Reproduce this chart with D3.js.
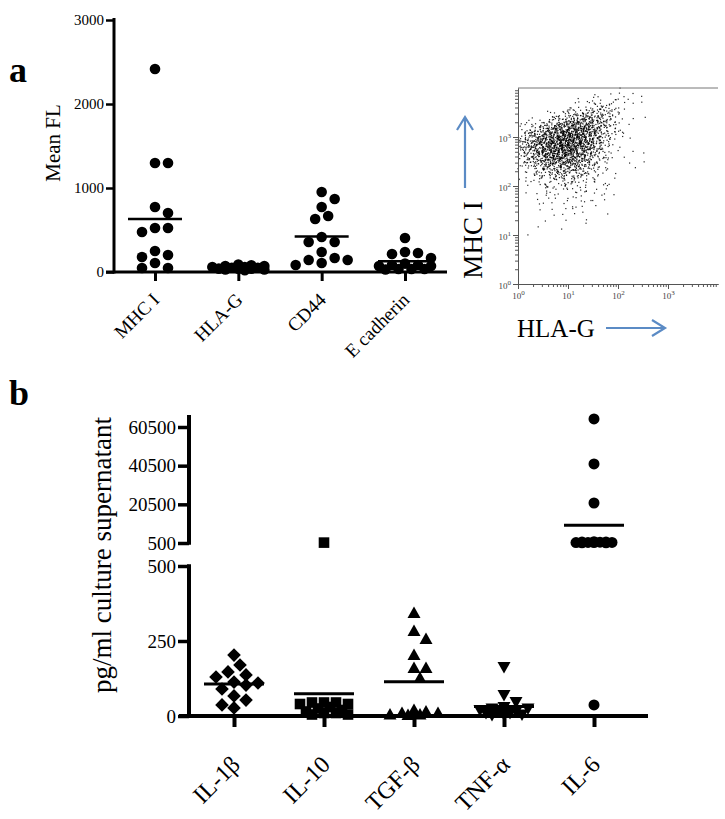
<!DOCTYPE html>
<html>
<head>
<meta charset="utf-8">
<script src="https://cdn.jsdelivr.net/npm/d3@7"></script>
<style>
  body { margin: 0; background: #fff; }
  svg { display: block; }
  text { font-family: "Liberation Serif", "Times New Roman", serif; }
</style>
</head>
<body>
<script>
// ---------------- DATA ----------------
// Panel a: surface marker mean fluorescence
const aCategories = ["MHC I", "HLA-G", "CD44", "E cadherin"];
const aMHCI = [2417, 1298, 1298, 774, 702, 524, 476, 524, 250, 202, 179, 107, 48, 48];
const aHLAG = [80, 60, 70, 40, 50, 30, 60, 90, 20, 40, 50, 30, 70, 40];
const aCD44 = [952, 869, 774, 631, 667, 417, 357, 357, 238, 167, 143, 143, 107, 83];
const aEcad = [405, 238, 226, 214, 167, 100, 83, 83, 70, 70, 36, 36, 36, 30];
const aYTicks = [0, 1000, 2000, 3000];

// Panel b: cytokines (pg/ml culture supernatant)
const bCategories = ["IL-1β", "IL-10", "TGF-β", "TNF-α", "IL-6"];
const bIL1b = [203, 170, 147, 130, 137, 110, 113, 103, 90, 53, 67, 27, 37];
const bIL10 = [700, 45, 45, 40, 45, 40, 30, 25, 20, 15, 10, 10, 5, 5];
const bTGFb = [343, 283, 257, 203, 160, 160, 127, 20, 15, 10, 10, 5, 5, 3];
const bTNFa = [163, 70, 47, 30, 25, 25, 20, 15, 15, 10, 10, 5, 5, 3];
const bIL6 = [64650, 41370, 21190, 1200, 1000, 900, 800, 700, 700, 600, 600, 800, 1000, 37];
const bUpperTicks = [500, 20500, 40500, 60500];
const bLowerTicks = [0, 250, 500];

// Flow cytometry dot plot: dot counts per 0.25-decade cell
// rows: log10(MHC I) from 3.75-4.0 (top) down to 1.0-1.25; cols: log10(HLA-G) 0-0.25 ... 2.75-3.0
const flowDecades = [0, 1, 2, 3];
const flowDensity = [
  [0, 0, 0, 0, 0, 0, 1, 2, 3, 2, 1, 0],
  [0, 0, 0, 0, 3, 10, 18, 16, 5, 1, 0, 0],
  [0, 2, 8, 25, 50, 60, 50, 20, 3, 0, 0, 0],
  [15, 35, 75, 110, 120, 95, 55, 15, 2, 0, 0, 0],
  [40, 80, 115, 140, 130, 90, 40, 8, 2, 1, 0, 0],
  [30, 65, 100, 115, 100, 60, 22, 5, 3, 0, 0, 0],
  [8, 25, 50, 60, 50, 30, 12, 3, 0, 2, 0, 0],
  [3, 10, 16, 20, 18, 12, 5, 2, 0, 0, 0, 0],
  [1, 4, 6, 7, 7, 6, 4, 2, 0, 0, 0, 0],
  [0, 2, 3, 3, 4, 3, 2, 1, 0, 0, 0, 0],
  [0, 1, 2, 2, 2, 1, 1, 0, 0, 0, 0, 0],
  [0, 1, 0, 1, 0, 1, 0, 0, 0, 0, 0, 0]
];

// ---------------- DRAWING ----------------
const svg = d3.select("body").append("svg").attr("width", 725).attr("height", 819);
const FONT = "'Liberation Serif', 'Times New Roman', serif";

function swarm(vals, yOf, step, minD, maxOff) {
  const pts = vals.map(v => ({ v, y: yOf(v) }));
  const order = pts.slice().sort((a, b) => b.v - a.v);
  const cands = [0];
  for (let k = 1; k * step <= maxOff + 0.01; k++) cands.push(k * step, -k * step);
  const placed = [];
  order.forEach(p => {
    let best = 0, bestScore = -Infinity;
    for (const o of cands) {
      let md = Infinity;
      for (const q of placed) {
        const d = Math.hypot(o - q.o, p.y - q.y);
        if (d < md) md = d;
      }
      if (md >= minD) { best = o; bestScore = Infinity; break; }
      if (md > bestScore) { bestScore = md; best = o; }
    }
    p.o = best;
    placed.push(p);
  });
  return pts;
}

// ===== Panel a =====
const xA = d3.scalePoint().domain(aCategories).range([155, 405]);
const yA = d3.scaleLinear().domain([0, 3000]).range([272, 20]);

svg.append("text").attr("x", 9).attr("y", 82).attr("font-size", 36).attr("font-weight", "bold").text("a");

const gAy = svg.append("g").attr("transform", "translate(114,0)")
  .call(d3.axisLeft(yA).tickValues(aYTicks).tickSize(8).tickPadding(2).tickSizeOuter(0).tickFormat(d3.format("d")));
gAy.select(".domain").remove();
gAy.selectAll(".tick line").attr("stroke", "#000").attr("stroke-width", 2.5);
gAy.selectAll(".tick text").attr("font-family", FONT).attr("font-size", 15).attr("fill", "#000");
svg.append("line").attr("x1", 114).attr("x2", 114).attr("y1", 18).attr("y2", 273.5)
  .attr("stroke", "#000").attr("stroke-width", 3);

svg.append("line").attr("x1", 106).attr("x2", 447).attr("y1", 272).attr("y2", 272)
  .attr("stroke", "#000").attr("stroke-width", 3);
const gAx = svg.append("g").attr("transform", "translate(0,272)")
  .call(d3.axisBottom(xA).tickSize(9).tickSizeOuter(0));
gAx.select(".domain").remove();
gAx.selectAll(".tick line").attr("stroke", "#000").attr("stroke-width", 3);
gAx.selectAll(".tick text").attr("font-family", FONT).attr("font-size", 19).attr("fill", "#000")
  .attr("x", 0).attr("y", 0).attr("dy", 0).attr("text-anchor", "end")
  .attr("transform", "translate(5,29) rotate(-45)");

svg.append("text").attr("transform", "translate(60,143) rotate(-90)").attr("text-anchor", "middle")
  .attr("font-size", 21).text("Mean FL");

const aSeries = [aMHCI, aHLAG, aCD44, aEcad];
aSeries.forEach((vals, i) => {
  const cx = xA(aCategories[i]);
  const pts = swarm(vals, yA, 6.5, 11, 26);
  svg.append("g").selectAll("circle").data(pts).join("circle")
    .attr("cx", d => cx + d.o).attr("cy", d => d.y).attr("r", 5.3).attr("fill", "#000");
  const m = d3.mean(vals);
  svg.append("line").attr("x1", cx - 27).attr("x2", cx + 27).attr("y1", yA(m)).attr("y2", yA(m))
    .attr("stroke", "#000").attr("stroke-width", 2.5);
});

// ===== Flow plot =====
const fx = d3.scaleLog().domain([1, 1e4]).range([518, 718]);
const fy = d3.scaleLog().domain([1, 1e4]).range([284, 88]);

function halton(i, b) { let f = 1, r = 0; while (i > 0) { f /= b; r += f * (i % b); i = Math.floor(i / b); } return r; }
const dots = [];
let hi = 1;
flowDensity.forEach((row, r) => {
  const lyMid = 4 - 0.25 * r - 0.125;
  row.forEach((n, c) => {
    const lxMid = c * 0.25 + 0.125;
    for (let k = 0; k < n; k++) {
      hi++;
      // tent-shaped spread over neighbouring cells, low-discrepancy placement
      const lx = lxMid + (halton(hi, 2) + halton(hi, 5) - 1) * 0.25;
      const ly = lyMid + (halton(hi, 3) + halton(hi, 7) - 1) * 0.25;
      if (lx < 0 || ly < 0 || ly > 4) continue;
      dots.push([Math.pow(10, lx), Math.pow(10, ly)]);
    }
  });
});
svg.append("g").selectAll("rect").data(dots).join("rect")
  .attr("x", d => fx(d[0]) - 0.6).attr("y", d => fy(d[1]) - 0.6)
  .attr("width", 1.2).attr("height", 1.2).attr("fill", "#000").attr("opacity", 0.85);

const minorVals = [];
for (let e = 0; e < 4; e++) for (let m = 2; m <= 9; m++) minorVals.push(m * Math.pow(10, e));
const majorVals = flowDecades.map(e => Math.pow(10, e));

function styleFlow(g) {
  g.selectAll("line").attr("stroke", "#555").attr("stroke-width", 1);
  g.selectAll("path").attr("stroke", "#555").attr("stroke-width", 1);
}
function supLabels(g) {
  g.selectAll(".tick text").each(function (d) {
    const t = d3.select(this);
    const e = Math.round(Math.log10(d));
    t.text(null).attr("font-family", "'Liberation Sans', Arial, sans-serif").attr("font-size", 9).attr("fill", "#444");
    t.append("tspan").text("10");
    t.append("tspan").attr("dy", -4).attr("font-size", 7).text(e);
  });
}
const gFyMinor = svg.append("g").attr("transform", "translate(518,0)")
  .call(d3.axisLeft(fy).tickValues(minorVals).tickSize(3).tickFormat("").tickSizeOuter(0));
styleFlow(gFyMinor);
const gFy = svg.append("g").attr("transform", "translate(518,0)")
  .call(d3.axisLeft(fy).tickValues(majorVals).tickSize(5).tickPadding(2).tickSizeOuter(0));
styleFlow(gFy);
supLabels(gFy);
gFy.selectAll(".tick text").attr("dy", "0.5em");

const gFxMinor = svg.append("g").attr("transform", "translate(0,284)")
  .call(d3.axisBottom(fx).tickValues(minorVals).tickSize(3).tickFormat("").tickSizeOuter(0));
styleFlow(gFxMinor);
const gFx = svg.append("g").attr("transform", "translate(0,284)")
  .call(d3.axisBottom(fx).tickValues(majorVals).tickSize(5).tickPadding(4).tickSizeOuter(0));
styleFlow(gFx);
supLabels(gFx);
svg.append("line").attr("x1", 518).attr("x2", 718).attr("y1", 88).attr("y2", 88)
  .attr("stroke", "#777").attr("stroke-width", 1);

const arrowColor = "#5b8bc5";
svg.append("path").attr("d", "M465,188 V117 M457,130 L465,117 L473,130")
  .attr("fill", "none").attr("stroke", arrowColor).attr("stroke-width", 2.2);
svg.append("path").attr("d", "M606,328 H665 M652,320 L665,328 L652,336")
  .attr("fill", "none").attr("stroke", arrowColor).attr("stroke-width", 2.2);
svg.append("text").attr("transform", "translate(482,240) rotate(-90)").attr("text-anchor", "middle")
  .attr("font-size", 27).text("MHC I");
svg.append("text").attr("x", 517).attr("y", 337).attr("font-size", 25).text("HLA-G");

// ===== Panel b =====
const xB = d3.scalePoint().domain(bCategories).range([234, 594]);
const yLow = d3.scaleLinear().domain([0, 500]).range([716, 566]);
const yHigh = d3.scaleLinear().domain([500, 60500]).range([543, 427]);
const yTopVal = yHigh.invert(415);
const yB = v => (v > 500 ? yHigh(v) : yLow(v));

svg.append("text").attr("x", 9).attr("y", 405).attr("font-size", 36).attr("font-weight", "bold").text("b");

function bAxis(scale, ticks, y0, y1) {
  const g = svg.append("g").attr("transform", "translate(189,0)")
    .call(d3.axisLeft(scale).tickValues(ticks).tickSize(11).tickPadding(2).tickSizeOuter(0).tickFormat(d3.format("d")));
  g.select(".domain").remove();
  g.selectAll(".tick line").attr("stroke", "#000").attr("stroke-width", 3.5);
  g.selectAll(".tick text").attr("font-family", FONT).attr("font-size", 19).attr("fill", "#000");
  svg.append("line").attr("x1", 189).attr("x2", 189).attr("y1", y0).attr("y2", y1)
    .attr("stroke", "#000").attr("stroke-width", 4);
}
bAxis(yHigh, bUpperTicks, yHigh(yTopVal), yHigh(500) + 1.75);
bAxis(yLow, bLowerTicks, yLow(500) - 1.75, yLow(0) + 2);

svg.append("line").attr("x1", 179).attr("x2", 648).attr("y1", 716).attr("y2", 716)
  .attr("stroke", "#000").attr("stroke-width", 4);
const gBx = svg.append("g").attr("transform", "translate(0,716)")
  .call(d3.axisBottom(xB).tickSize(11).tickSizeOuter(0));
gBx.select(".domain").remove();
gBx.selectAll(".tick line").attr("stroke", "#000").attr("stroke-width", 4);
gBx.selectAll(".tick text").attr("font-family", FONT).attr("font-size", 24).attr("fill", "#000")
  .attr("x", 0).attr("y", 0).attr("dy", 0).attr("text-anchor", "end")
  .attr("transform", "translate(7,50) rotate(-45)");

svg.append("text").attr("transform", "translate(111,555) rotate(-90)").attr("text-anchor", "middle")
  .attr("font-size", 27).text("pg/ml culture supernatant");

const shapes = {
  diamond: "M0,-6.8 L6.8,0 L0,6.8 L-6.8,0 Z",
  square: "M-5.3,-5.3 H5.3 V5.3 H-5.3 Z",
  triangle: "M0,-6.5 L6.5,5 L-6.5,5 Z",
  down: "M0,6.5 L6.5,-5 L-6.5,-5 Z",
  circle: d3.symbol(d3.symbolCircle, 95)()
};
const bSeries = [
  [bIL1b, "diamond"], [bIL10, "square"], [bTGFb, "triangle"], [bTNFa, "down"], [bIL6, "circle"]
];
bSeries.forEach(([vals, shape], i) => {
  const cx = xB(bCategories[i]);
  const pts = swarm(vals, yB, 6, 11.5, shape === "circle" ? 22 : 27);
  svg.append("g").selectAll("path").data(pts).join("path")
    .attr("d", shapes[shape])
    .attr("transform", d => `translate(${cx + d.o},${d.y})`).attr("fill", "#000");
  const m = d3.mean(vals);
  svg.append("line").attr("x1", cx - 30).attr("x2", cx + 30).attr("y1", yB(m)).attr("y2", yB(m))
    .attr("stroke", "#000").attr("stroke-width", 3);
});
</script>
</body>
</html>
